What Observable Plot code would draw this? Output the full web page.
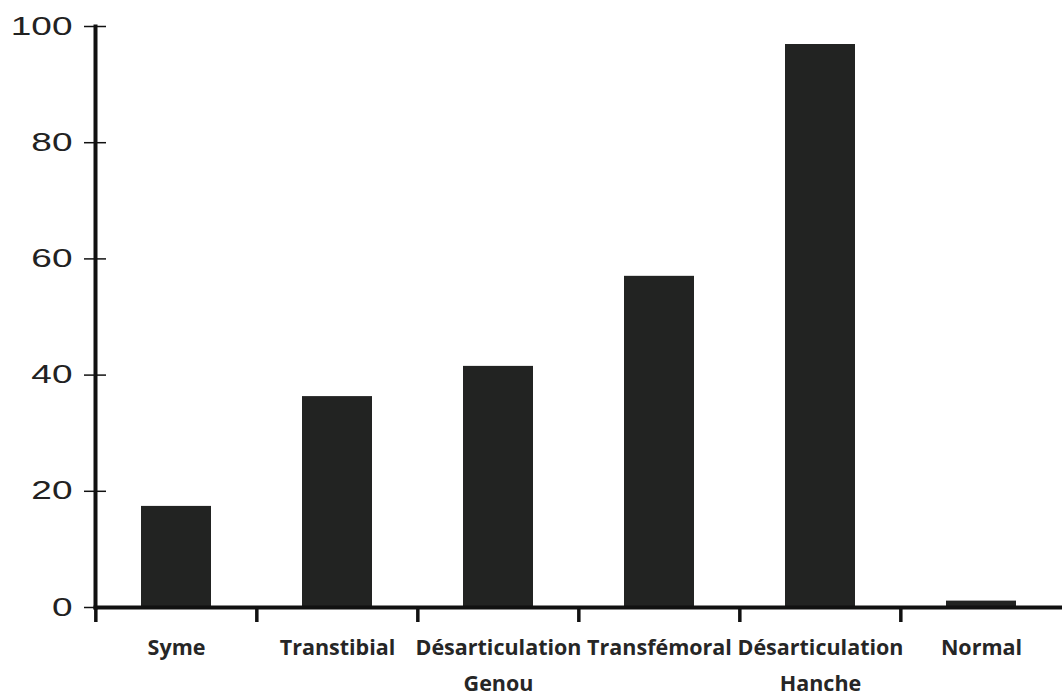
<!DOCTYPE html>
<html>
<head>
<meta charset="utf-8">
<script src="https://cdn.jsdelivr.net/npm/d3@7"></script>
<script src="https://cdn.jsdelivr.net/npm/@observablehq/plot@0.6"></script>
<style>
  body { margin: 0; background: #fff; }
  #chart svg { overflow: visible; display: block; }
</style>
</head>
<body>
<div id="chart"></div>
<script>
const categories = ["Syme", "Transtibial", "Désarticulation\nGenou", "Transfémoral", "Désarticulation\nHanche", "Normal"];
const values = [17.4, 36.3, 41.5, 57.0, 96.9, 1.1];
const yTicks = [0, 20, 40, 60, 80, 100];

const data = categories.map((c, i) => ({category: c, value: values[i]}));

const chart = Plot.plot({
  width: 1062,
  height: 693,
  marginTop: 26,
  marginBottom: 86,
  marginLeft: 95,
  marginRight: 0,
  x: {domain: categories, range: [95, 1063], paddingInner: 0.565, paddingOuter: 0.2825, label: null},
  y: {domain: [0, 100], ticks: yTicks, label: null},
  style: {background: "#fff"},
  marks: [
    Plot.barY(data, {x: "category", y: "value", fill: "#222322"}),
    // y tick marks crossing the axis
    Plot.axisY(yTicks, {tickSize: 22, dx: 11, tickFormat: () => "", strokeWidth: 1.5, stroke: "#111", label: null}),
    // y tick labels
    Plot.axisY(yTicks, {tickSize: 0, tickPadding: 23, fontSize: 25, fontFamily: "Liberation Sans, Arial, sans-serif", fill: "#222", label: null}),
    // category boundary ticks
    Plot.axisX(categories, {tickSize: 13, dx: -80.67, dy: 2, tickFormat: () => "", strokeWidth: 3.5, stroke: "#111", label: null}),
    // category labels
    Plot.axisX(categories, {tickSize: 0, tickPadding: 22, fontSize: 21.5, fontWeight: "bold", fontFamily: "Open Sans, sans-serif", fill: "#262626", lineHeight: 1.68, label: null}),
    Plot.frame({anchor: "left", strokeWidth: 4, stroke: "#111"}),
    Plot.frame({anchor: "bottom", strokeWidth: 4, stroke: "#111"})
  ]
});
document.getElementById("chart").appendChild(chart);

// stretch y tick labels horizontally like the reference
d3.select(chart).selectAll("g[aria-label='y-axis tick label'] text").each(function() {
  const t = this.getAttribute("transform") || "";
  this.setAttribute("transform", t + " scale(1.48,1)");
});
</script>
</body>
</html>
